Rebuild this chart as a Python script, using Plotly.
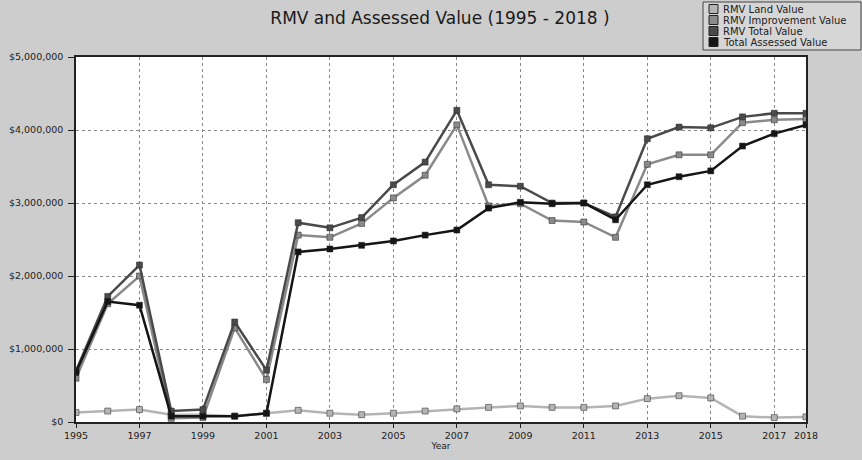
import plotly.graph_objects as go

years = list(range(1995, 2019))

land_value = [0.13, 0.15, 0.17, 0.10, 0.10, 0.08, 0.12, 0.16, 0.12, 0.10, 0.12, 0.15,
              0.18, 0.20, 0.22, 0.20, 0.20, 0.22, 0.32, 0.36, 0.33, 0.08, 0.06, 0.07]
improvement_value = [0.60, 1.62, 2.00, 0.05, 0.06, 1.29, 0.58, 2.56, 2.53, 2.72, 3.07, 3.38,
                     4.07, 2.96, 2.99, 2.76, 2.74, 2.53, 3.53, 3.66, 3.66, 4.10, 4.14, 4.15]
total_value = [0.70, 1.72, 2.15, 0.15, 0.17, 1.37, 0.71, 2.73, 2.66, 2.80, 3.25, 3.56,
               4.27, 3.25, 3.23, 3.00, 3.00, 2.81, 3.88, 4.04, 4.03, 4.18, 4.23, 4.23]
assessed_value = [0.68, 1.65, 1.60, 0.08, 0.08, 0.08, 0.12, 2.33, 2.37, 2.42, 2.48, 2.56,
                  2.63, 2.93, 3.01, 2.99, 3.00, 2.77, 3.25, 3.36, 3.44, 3.78, 3.95, 4.07]

series_names = ["RMV Land Value", "RMV Improvement Value", "RMV Total Value", "Total Assessed Value"]
series_values = [land_value, improvement_value, total_value, assessed_value]
series_colors = ["#b4b4b4", "#8a8a8a", "#4a4a4a", "#151515"]

x_ticks = [1995, 1997, 1999, 2001, 2003, 2005, 2007, 2009, 2011, 2013, 2015, 2017, 2018]
y_ticks = [0, 1000000, 2000000, 3000000, 4000000, 5000000]

W, H = 862, 460
ML, MR, MT, MB = 76, 56, 57, 38
PW, PH = W - ML - MR, H - MT - MB


def px_x(px):
    return (px - ML) / PW


def px_y(py):
    return (H - MB - py) / PH


fig = go.Figure()
for name, vals, col in zip(series_names, series_values, series_colors):
    fig.add_trace(go.Scatter(
        x=years, y=[v * 1e6 for v in vals], name=name, mode="lines+markers",
        line=dict(color=col, width=2.5),
        marker=dict(symbol="square", size=6, color=col, line=dict(color="#222", width=0.5)),
    ))

# custom compact legend (top right, like the reference)
shapes = [dict(type="rect", xref="paper", yref="paper",
               x0=px_x(703), x1=px_x(861), y0=px_y(50), y1=px_y(2),
               fillcolor="#d6d6d6", line=dict(color="#444", width=1))]
annotations = []
row_y = [9, 20, 31, 42]
for name, col, ry in zip(series_names, series_colors, row_y):
    shapes.append(dict(type="rect", xref="paper", yref="paper",
                       x0=px_x(709), x1=px_x(718), y0=px_y(ry + 4.5), y1=px_y(ry - 4.5),
                       fillcolor=col, line=dict(color="#222", width=1)))
    annotations.append(dict(text=name, xref="paper", yref="paper", x=px_x(721), y=px_y(ry),
                            xanchor="left", yanchor="middle", showarrow=False,
                            font=dict(family="DejaVu Sans", size=10, color="#222")))

fig.update_layout(
    width=W, height=H,
    margin=dict(l=ML, r=MR, t=MT, b=MB, autoexpand=False),
    paper_bgcolor="#cdcdcd",
    plot_bgcolor="#ffffff",
    font=dict(family="DejaVu Sans", size=9.5, color="#222"),
    title=dict(text="RMV and Assessed Value (1995 - 2018 )", x=px_x(440), xref="paper",
               xanchor="center", y=1 - 18 / H, yref="container", yanchor="middle",
               font=dict(family="DejaVu Sans", size=17, color="#1a1a1a")),
    showlegend=False,
    shapes=shapes,
    annotations=annotations,
    xaxis=dict(range=[1995, 2018], tickmode="array", tickvals=x_ticks,
               ticktext=[str(t) for t in x_ticks], showgrid=True, gridcolor="#888",
               griddash="dot", gridwidth=1, showline=True, linecolor="#222", linewidth=1.5,
               mirror=True, ticks="outside", ticklen=4, tickcolor="#222",
               title=dict(text="Year", font=dict(size=9), standoff=2), zeroline=False),
    yaxis=dict(range=[0, 5000000], tickmode="array", tickvals=y_ticks, tickformat="$,.0f",
               showgrid=True, gridcolor="#888", griddash="dot", gridwidth=1, showline=True,
               linecolor="#222", linewidth=1.5, mirror=True, ticks="outside", ticklen=6,
               ticklabelstandoff=3, tickcolor="#222", zeroline=False),
)

fig.write_html("out.html", config={"displayModeBar": False},
               post_script="document.body.style.margin='0';document.body.style.overflow='hidden';")
